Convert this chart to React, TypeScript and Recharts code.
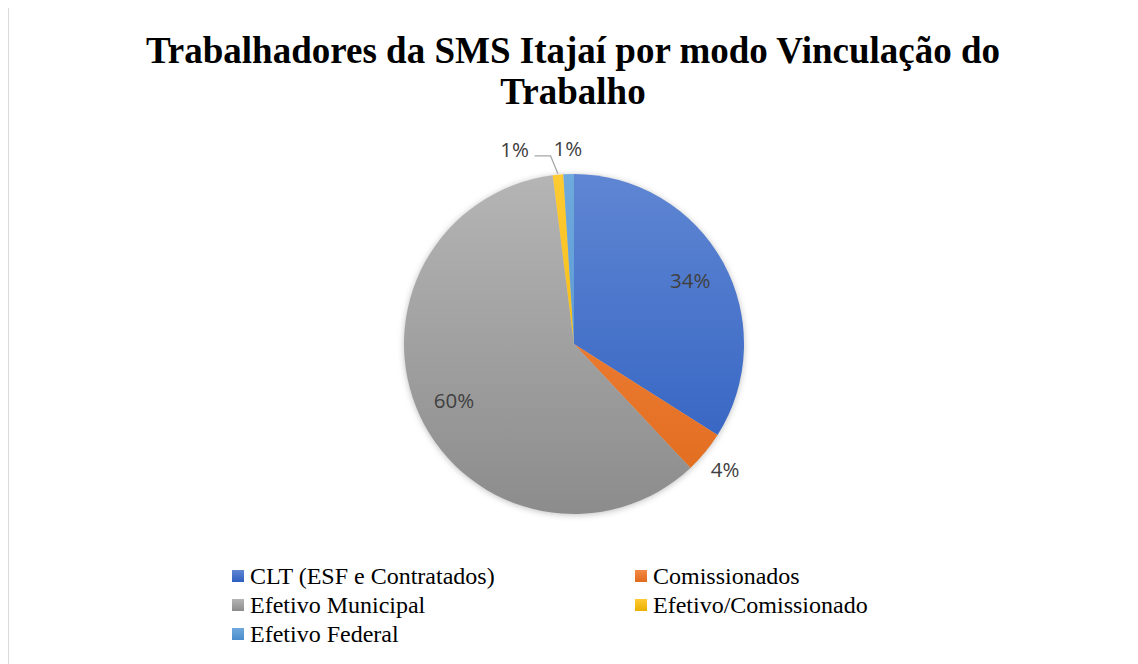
import { PieChart, Pie, Cell, Legend } from "recharts";

const categories = [
  "CLT (ESF e Contratados)",
  "Comissionados",
  "Efetivo Municipal",
  "Efetivo/Comissionado",
  "Efetivo Federal",
];
const values = [34, 4, 60, 1, 1];
const colorsTop = ["#5f86d3", "#f48a45", "#b5b5b5", "#ffcb33", "#6faadd"];
const colorsBottom = ["#2d5ebf", "#e06a1c", "#8c8c8c", "#eab000", "#4a8ccb"];

const data = categories.map((name, i) => ({ name, value: values[i] }));

const CX = 565;
const CY = 336;
const R = 170;
const RADIAN = Math.PI / 180;

function renderLabel(props: any) {
  const { cx, cy, midAngle, outerRadius, percent, name } = props;
  const text = `${Math.round(percent * 100)}%`;
  const cos = Math.cos(-midAngle * RADIAN);
  const sin = Math.sin(-midAngle * RADIAN);
  const style = { fontFamily: "'Open Sans', Lato, sans-serif", fontSize: 20.5, fill: "#404040" };
  if (percent >= 0.1) {
    const r = outerRadius * 0.78;
    return (
      <text x={cx + r * cos} y={cy + r * sin} textAnchor="middle" dominantBaseline="central" style={style}>
        {text}
      </text>
    );
  }
  const r = outerRadius + 26;
  let x = cx + r * cos;
  const y = cy + r * sin;
  if (name === "Efetivo/Comissionado") {
    x -= 41;
    const ex = cx + (outerRadius + 1) * cos;
    const ey = cy + (outerRadius + 1) * sin;
    return (
      <g>
        <polyline
          points={`${x + 20},${y + 7} ${x + 36},${y + 7} ${ex},${ey}`}
          fill="none"
          stroke="#a6a6a6"
          strokeWidth={1.3}
        />
        <text x={x} y={y} textAnchor="middle" dominantBaseline="central" style={style}>
          {text}
        </text>
      </g>
    );
  }
  return (
    <text x={x} y={y} textAnchor="middle" dominantBaseline="central" style={style}>
      {text}
    </text>
  );
}

function renderLegend() {
  return (
    <div
      style={{
        display: "grid",
        gridTemplateColumns: "403px 320px",
        rowGap: 5,
        fontFamily: "'Liberation Serif', 'Times New Roman', serif",
        fontSize: 24,
        color: "#000",
      }}
    >
      {categories.map((c, i) => (
        <div key={c} style={{ display: "flex", alignItems: "center", height: 24 }}>
          <span
            style={{
              display: "inline-block",
              width: 12,
              height: 12,
              marginRight: 6,
              background: `linear-gradient(${colorsTop[i]}, ${colorsBottom[i]})`,
            }}
          />
          {c}
        </div>
      ))}
    </div>
  );
}

export default function App() {
  return (
    <div
      style={{
        position: "relative",
        width: 1128,
        height: 670,
        border: "1px solid #d9d9d9",
        background: "#fff",
        marginTop: -1,
      }}
    >
      <div
        style={{
          position: "absolute",
          top: 22,
          left: 0,
          width: 1128,
          textAlign: "center",
          fontFamily: "'Liberation Serif', 'Times New Roman', serif",
          fontWeight: "bold",
          fontSize: 37,
          lineHeight: "41px",
          color: "#000",
        }}
      >
        Trabalhadores da SMS Itajaí por modo Vinculação do
        <br />
        Trabalho
      </div>
      <style>{`.recharts-pie { filter: drop-shadow(0px 1px 3px rgba(0,0,0,0.25)); }`}</style>
      <PieChart
        width={1128}
        height={660}
        margin={{ top: 0, right: 0, bottom: 0, left: 0 }}
        style={{ position: "absolute", top: 0, left: 0 }}
      >
        <defs>
          {categories.map((c, i) => (
            <linearGradient
              key={c}
              id={`grad${i}`}
              gradientUnits="userSpaceOnUse"
              x1={0}
              y1={CY - R}
              x2={0}
              y2={CY + R}
            >
              <stop offset="0%" stopColor={colorsTop[i]} />
              <stop offset="100%" stopColor={colorsBottom[i]} />
            </linearGradient>
          ))}
        </defs>
        <Pie
          data={data}
          dataKey="value"
          nameKey="name"
          cx={CX}
          cy={CY}
          outerRadius={R}
          startAngle={90}
          endAngle={-270}
          stroke="none"
          label={renderLabel}
          labelLine={false}
          isAnimationActive={false}
        >
          {data.map((d, i) => (
            <Cell key={d.name} fill={`url(#grad${i})`} />
          ))}
        </Pie>
        <Legend
          content={renderLegend}
          layout="vertical"
          wrapperStyle={{ position: "absolute", left: 223, top: 556, width: 740 }}
        />
      </PieChart>
    </div>
  );
}
